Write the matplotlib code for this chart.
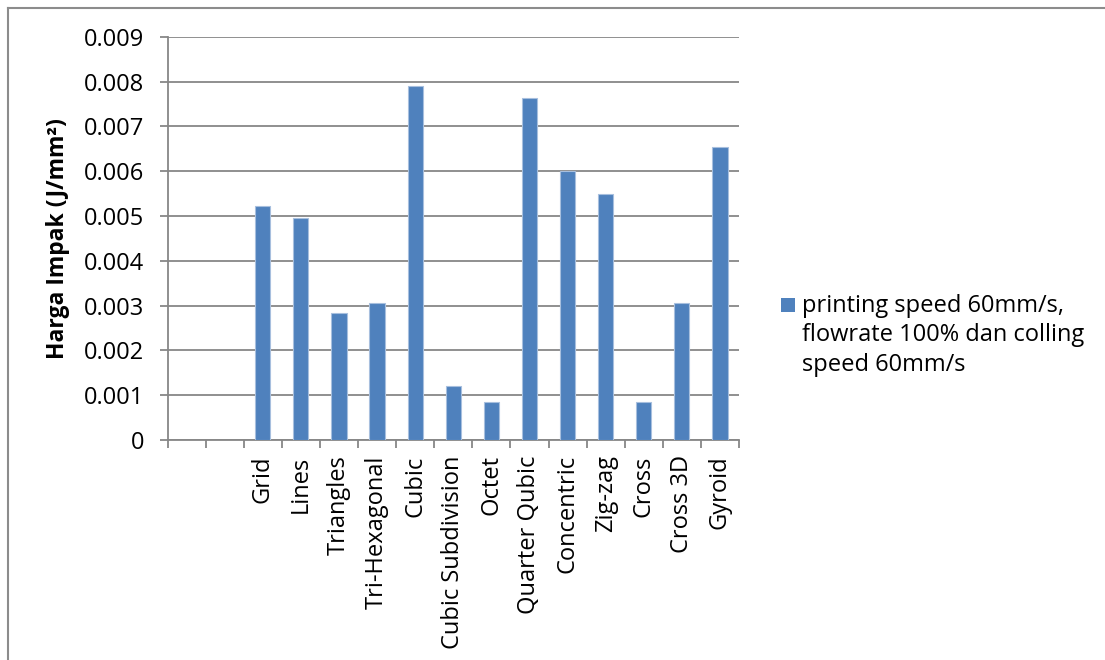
import numpy as np
import matplotlib
matplotlib.use("Agg")
import matplotlib.pyplot as plt
from matplotlib.lines import Line2D
from matplotlib.patches import Rectangle

# Infill patterns (two leading empty categories, as in the worksheet)
categories = ["", "", "Grid", "Lines", "Triangles", "Tri-Hexagonal", "Cubic",
              "Cubic Subdivision", "Octet", "Quarter Qubic", "Concentric",
              "Zig-zag", "Cross", "Cross 3D", "Gyroid"]
# Impact strength (J/mm²); None for empty cells
impact = [None, None, 0.00522, 0.00496, 0.00283, 0.00305, 0.00789,
          0.00120, 0.00084, 0.00763, 0.00600, 0.00548, 0.00084,
          0.00305, 0.00654]
yticks = [0, 0.001, 0.002, 0.003, 0.004, 0.005, 0.006, 0.007, 0.008, 0.009]
ytick_labels = ["0", "0.001", "0.002", "0.003", "0.004", "0.005", "0.006",
                "0.007", "0.008", "0.009"]
series_label = "printing speed 60mm/s,\nflowrate 100% dan colling\nspeed 60mm/s"
ylabel = "Harga Impak (J/mm²)"

BAR = "#4F81BD"
GRID = "#878787"
FONT = ["Open Sans", "DejaVu Sans"]
FS = 17

plt.rcParams["font.family"] = FONT

fig = plt.figure(figsize=(11.05, 6.60), dpi=100)
W, H = 1105, 660
ax = fig.add_axes([167.5 / W, 1 - 440 / H, (739 - 167.5) / W, (440 - 36.7) / H])

x = np.arange(len(categories))
idx = [i for i, v in enumerate(impact) if v is not None]
vals = [impact[i] for i in idx]
ax.bar(x[idx], vals, width=0.4, color=BAR, edgecolor="#A7BFDE",
       linewidth=0.8, zorder=3)

ax.set_xlim(-0.5, len(categories) - 0.5)
ax.set_ylim(0, 0.009)
ax.set_yticks(yticks)
ax.set_yticklabels(ytick_labels, fontsize=FS)
ax.yaxis.grid(True, color=GRID, linewidth=1.3, zorder=0)

ax.set_xticks(x)
ax.set_xticklabels(categories, rotation=90, fontsize=FS, va="top", ha="center")
ax.set_xticks(np.arange(len(categories) + 1) - 0.5, minor=True)
ax.tick_params(axis="x", which="major", length=0, pad=11)
ax.tick_params(axis="x", which="minor", length=6, width=1.3, color=GRID)
ax.tick_params(axis="y", length=6, width=1.3, color=GRID, pad=11)

for s in ["top", "right"]:
    ax.spines[s].set_visible(False)
for s in ["left", "bottom"]:
    ax.spines[s].set_color(GRID)
    ax.spines[s].set_linewidth(1.3)

ax.set_ylabel(ylabel, fontsize=16.5, fontweight="bold")
ax.yaxis.set_label_coords(-0.171, 0.5)

# Legend drawn as a key square plus wrapped label
fig.patches.append(Rectangle((781 / W, 1 - 312 / H), 14 / W, 14 / H,
                             transform=fig.transFigure, facecolor=BAR,
                             edgecolor="none"))
fig.text(802 / W, 1 - 294 / H, series_label, fontsize=FS, va="top", ha="left",
         linespacing=1.3)

# Chart area border (top and left edges)
fig.add_artist(Line2D([8 / W, 1], [1 - 7.5 / H, 1 - 7.5 / H],
                      transform=fig.transFigure, color="#8C8C8C", linewidth=1.5))
fig.add_artist(Line2D([8 / W, 8 / W], [0, 1 - 7.5 / H],
                      transform=fig.transFigure, color="#8C8C8C", linewidth=1.5))

fig.savefig("out.png", dpi=100, facecolor="white")
